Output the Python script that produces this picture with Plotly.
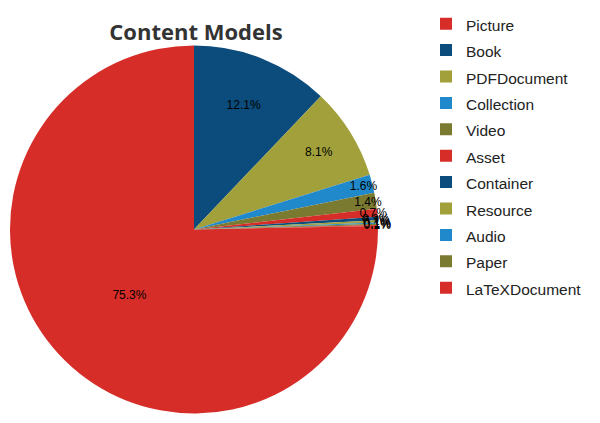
import plotly.graph_objects as go

labels = ["Picture", "Book", "PDFDocument", "Collection", "Video", "Asset",
          "Container", "Resource", "Audio", "Paper", "LaTeXDocument"]
values = [75.3, 12.1, 8.1, 1.6, 1.4, 0.7, 0.3, 0.2, 0.1, 0.1, 0.1]
colors = ["#d62d28", "#0c4c7c", "#a1a03a", "#2089cc", "#7b7a31", "#d62d28",
          "#0c4c7c", "#a1a03a", "#2089cc", "#7b7a31", "#d62d28"]
title_text = "Content Models"

total = sum(values)
rotation = 360 * (1 - values[0] / total)
legend_labels = ['<span style="font-size:15.5px">%s</span>' % l for l in labels]

W, H = 600, 423
cx, cy, r = 194, 229.5, 184

fig = go.Figure(go.Pie(
    labels=legend_labels,
    values=values,
    sort=False,
    direction="clockwise",
    rotation=rotation,
    marker=dict(colors=colors, line=dict(width=0)),
    texttemplate="%{percent:.1%}",
    textposition="inside",
    insidetextorientation="horizontal",
    textfont=dict(family="Liberation Sans", size=12, color="#000"),
    hoverinfo="none",
    domain=dict(x=[(cx - r) / W, (cx + r) / W], y=[(H - cy - r) / H, (H - cy + r) / H]),
))

fig.update_layout(
    width=W, height=H,
    margin=dict(l=0, r=0, t=0, b=0),
    paper_bgcolor="white",
    uniformtext=dict(minsize=12, mode="show"),
    title=dict(text="<b>" + title_text + "</b>", x=196 / W, xanchor="center",
               y=1 - 32 / H, yanchor="middle",
               font=dict(family="Open Sans", size=22, color="#333")),
    legend=dict(x=426 / W, xanchor="left", y=1 - 5.5 / H, yanchor="top",
                font=dict(family="Liberation Sans", size=18.0, color="#222"),
                bgcolor="rgba(0,0,0,0)"),
)

fig.write_html("out.html", config={"displayModeBar": False},
               post_script="document.body.style.margin='0';")
